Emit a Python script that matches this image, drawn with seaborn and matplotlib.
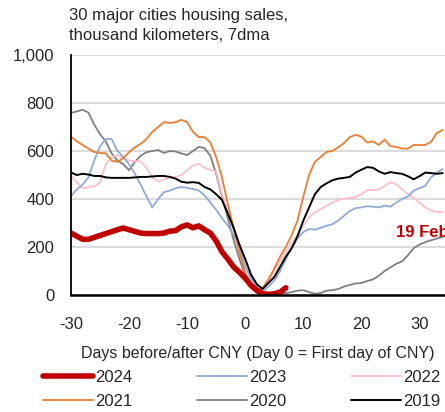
import numpy as np
import pandas as pd
import matplotlib
matplotlib.use("Agg")
import matplotlib.pyplot as plt
from matplotlib.ticker import FuncFormatter, FixedLocator, MultipleLocator
import seaborn as sns

days = list(range(-30, 35))

y2024 = [258, 245, 232, 232, 240, 248, 256, 264, 272, 279, 272, 265, 258, 256, 256, 256, 258, 266, 268, 284,
         292, 280, 288, 272, 258, 225, 180, 150, 117, 95, 70, 40, 20, 5, 3, 5, 12, 30] + [np.nan] * 27

y2023 = [412, 440, 460, 490, 560, 620, 650, 650, 600, 575, 545, 505, 460, 410, 365, 400, 428, 435, 445, 450,
         446, 442, 435, 415, 385, 355, 320, 290, 250, 200, 120, 70, 33, 12, 35, 60, 100, 150, 195, 235,
         262, 275, 272, 280, 288, 295, 310, 330, 350, 362, 365, 370, 368, 365, 372, 368, 385, 400, 410, 435,
         445, 455, 490, 510, 525]

y2022 = [495, 470, 445, 450, 452, 470, 545, 575, 583, 570, 560, 558, 556, 530, 490, 475, 480, 490, 492, 500,
         520, 540, 548, 530, 521, 515, 420, 350, 270, 180, 100, 40, 15, 25, 60, 100, 140, 180, 215, 250,
         290, 325, 345, 358, 372, 385, 395, 402, 404, 408, 420, 437, 437, 440, 455, 470, 462, 440, 420, 405,
         385, 365, 352, 345, 346]

y2021 = [660, 640, 625, 610, 596, 592, 590, 560, 555, 570, 595, 615, 630, 650, 680, 700, 720, 717, 720, 730,
         720, 680, 658, 658, 635, 575, 490, 380, 280, 180, 90, 40, 18, 30, 65, 110, 160, 200, 250, 310,
         410, 500, 555, 575, 596, 600, 615, 633, 658, 667, 660, 635, 640, 625, 648, 620, 617, 610, 610, 625,
         625, 625, 638, 675, 688]

y2020 = [758, 765, 772, 760, 710, 670, 640, 590, 560, 545, 520, 555, 580, 595, 600, 604, 592, 600, 598, 590,
         583, 600, 617, 612, 580, 505, 410, 320, 230, 150, 80, 30, 8, 5, 5, 5, 5, 8, 12, 18,
         20, 12, 5, 8, 18, 20, 25, 35, 42, 48, 50, 58, 65, 80, 100, 115, 130, 140, 165, 195,
         210, 220, 228, 235, 242]

y2019 = [510, 500, 505, 502, 496, 496, 490, 488, 488, 488, 488, 490, 492, 492, 494, 496, 496, 492, 485, 472,
         468, 470, 467, 450, 440, 420, 396, 340, 280, 210, 150, 85, 45, 25, 50, 75, 117, 160, 195, 245,
         310, 365, 420, 450, 465, 478, 485, 488, 492, 510, 522, 533, 530, 515, 505, 512, 508, 505, 495, 482,
         495, 510, 508, 505, 508]

series_names = ["2024", "2023", "2022", "2021", "2020", "2019"]
series_vals = [y2024, y2023, y2022, y2021, y2020, y2019]
colors = {"2024": "#c00000", "2023": "#8eaadb", "2022": "#ffbfc8",
          "2021": "#ed7d31", "2020": "#7f7f7f", "2019": "#000000"}
widths = {"2024": 4.0, "2023": 1.3, "2022": 1.3, "2021": 1.3, "2020": 1.3, "2019": 1.4}

title = "30 major cities housing sales,\nthousand kilometers, 7dma"
xlabel = "Days before/after CNY (Day 0 = First day of CNY)"
annot = "19 Feb"

sns.set_style("white")
plt.rcParams['font.family'] = ['Liberation Sans', 'DejaVu Sans']
plt.rcParams['axes.unicode_minus'] = False

fig = plt.figure(figsize=(4.45, 4.12), dpi=100)
ax = fig.add_axes([71 / 445, 1 - 295 / 412, 1 - 71 / 445, (295 - 55) / 412])

ax.yaxis.grid(True, color="#d9d9d9", linewidth=1.3)
ax.set_axisbelow(True)

order_draw = ["2020", "2022", "2023", "2021", "2019", "2024"]
handles = {}
for name in order_draw:
    vals = series_vals[series_names.index(name)]
    df = pd.DataFrame({"day": days, "value": vals}).dropna()
    sns.lineplot(data=df, x="day", y="value", ax=ax, color=colors[name],
                 linewidth=widths[name], label=name, legend=False)
    handles[name] = ax.lines[-1]

ax.set_xlim(-30, 34.4)
ax.set_ylim(0, 1000)
ax.yaxis.set_major_locator(MultipleLocator(200))
ax.yaxis.set_major_formatter(FuncFormatter(lambda v, p: f"{int(v):,}"))
ax.xaxis.set_major_locator(MultipleLocator(10))
ax.xaxis.set_minor_locator(FixedLocator([-30, -10, 10, 30]))
ax.tick_params(axis="x", which="major", length=0, labelsize=12, pad=16)
ax.tick_params(axis="x", which="minor", length=5, width=1.2, color="black", direction="out")
ax.tick_params(axis="y", which="major", length=5, width=1.2, color="black", direction="out",
               labelsize=12, pad=7)
for s in ["top", "right"]:
    ax.spines[s].set_visible(False)
ax.spines["left"].set_color("black")
ax.spines["left"].set_linewidth(1.3)
ax.spines["bottom"].set_color("black")
ax.spines["bottom"].set_linewidth(1.8)

ax.set_xlabel(xlabel, fontsize=11.5, labelpad=10)
ax.set_ylabel("")
fig.text(69 / 445, 1 - 8 / 412, title, fontsize=12, ha="left", va="top", linespacing=1.4)
ax.text(25.9, 262, annot, fontsize=12, color="#c00000", fontweight="bold", ha="left", va="center")

leg_order = ["2024", "2021", "2023", "2020", "2022", "2019"]
fig.legend([handles[n] for n in leg_order], leg_order, ncol=3, loc="upper left",
           bbox_to_anchor=(43 / 445, 1 - 370 / 412), frameon=False, fontsize=12, handlelength=3.0,
           handletextpad=0.15, columnspacing=3.85, labelspacing=0.55, borderaxespad=0.0, borderpad=0.0)

fig.savefig("out.png", dpi=100)
